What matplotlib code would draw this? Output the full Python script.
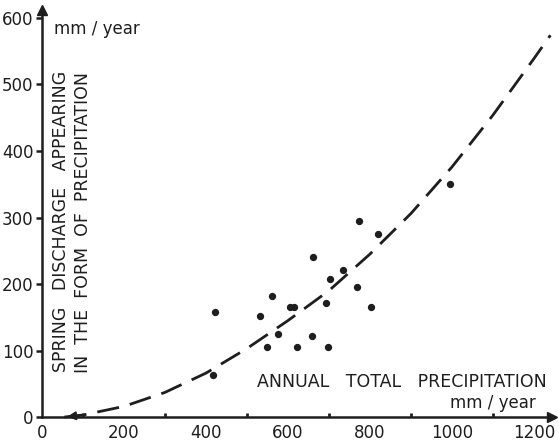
import numpy as np
import matplotlib.pyplot as plt

# ----- data ----- #
precip = [418, 422, 533, 548, 560, 575, 605, 615, 621, 658, 662,
          693, 698, 702, 735, 769, 773, 802, 820, 995]
discharge = [63, 158, 152, 105, 182, 125, 166, 166, 105, 122, 241,
             171, 105, 208, 221, 196, 295, 165, 275, 350]

# dashed trend curve, read at regular steps
curve_x = [55, 100, 200, 300, 400, 500, 600, 700, 800, 900, 1000, 1100, 1200, 1240]
curve_y = [0, 3, 16, 37, 66, 103, 145, 190, 245, 306, 376, 454, 539, 574]

x_ticks = [0, 200, 400, 600, 800, 1000, 1200]
y_ticks = [0, 100, 200, 300, 400, 500, 600]

ink = '#1e1e1e'
plt.rcParams['font.family'] = ['DejaVu Sans']

fig = plt.figure(figsize=(5.59, 4.41), dpi=100)
ax = fig.add_axes([0, 0, 1, 1])
ax.set_xlim(-102, 1261)
ax.set_ylim(-36, 627)

# Axes drawn through the origin, with arrows
for side in ['top', 'right']:
    ax.spines[side].set_visible(False)
ax.spines['left'].set_position(('data', 0))
ax.spines['bottom'].set_position(('data', 0))
ax.spines['left'].set_bounds(0, 612)
ax.spines['bottom'].set_bounds(0, 1245)
for side in ['left', 'bottom']:
    ax.spines[side].set_linewidth(1.8)
    ax.spines[side].set_color(ink)
ax.plot(0, 612, marker='^', color=ink, markersize=7, clip_on=False)
ax.plot(1245, 0, marker='>', color=ink, markersize=7, clip_on=False)

# Ticks
ax.set_xticks(x_ticks)
ax.set_xticks(np.arange(100, 1200, 100), minor=True)
ax.set_yticks(y_ticks)
ax.tick_params(axis='y', direction='out', length=4, width=1.8, color=ink,
               labelsize=12, labelcolor=ink, pad=2)
ax.tick_params(axis='x', which='both', direction='in', length=3, width=2,
               color=ink, labelsize=12, labelcolor=ink, pad=5)
ax.tick_params(axis='x', which='major', length=0)

# Data points
ax.scatter(precip, discharge, s=18, color=ink, zorder=3)

# Dashed trend curve with arrow at its start
ax.plot(curve_x, curve_y, color=ink, lw=2, dashes=(8, 4), zorder=2)
ax.annotate('', xy=(curve_x[0], curve_y[0]), xytext=(curve_x[1], curve_y[1]),
            arrowprops=dict(arrowstyle='-|>', color=ink, lw=1.5,
                            mutation_scale=12))

# Labels
ax.text(30, 583, 'mm / year', fontsize=12, color=ink, ha='left', va='center')
ax.text(46, 68, 'SPRING   DISCHARGE   APPEARING', rotation=90, fontsize=12.5,
        color=ink, ha='center', va='bottom')
ax.text(100, 66, 'IN  THE  FORM  OF  PRECIPITATION', rotation=90, fontsize=12.5,
        color=ink, ha='center', va='bottom')
ax.text(1230, 52, 'ANNUAL   TOTAL   PRECIPITATION', fontsize=12.5, color=ink,
        ha='right', va='center')
ax.text(1100, 21, 'mm / year', fontsize=12, color=ink, ha='center', va='center')

fig.savefig('out.png', dpi=100)
